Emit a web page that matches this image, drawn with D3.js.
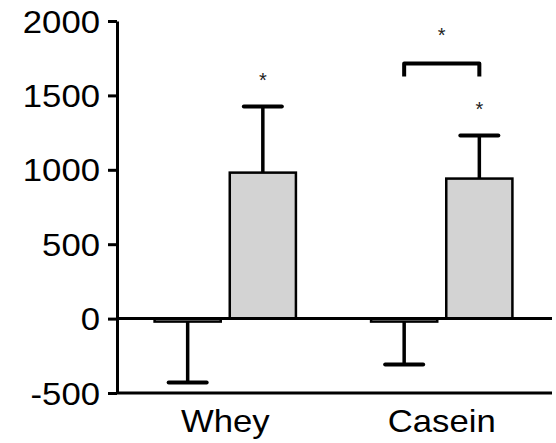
<!DOCTYPE html>
<meta charset="utf-8">
<script src="https://d3js.org/d3.v7.min.js"></script>
<style>
  body { margin: 0; background: #fff; }
  text { font-family: "Liberation Sans", Arial, sans-serif; }
</style>
<body>
<div id="chart"></div>
<script>
// data
var groups = ["Whey", "Casein"];
var series = ["control", "treated"];
var means = [[-20, 981], [-20, 941]];
var sems = [[410, 444], [289, 289]];
var yTicks = [-500, 0, 500, 1000, 1500, 2000];

var width = 556, height = 443;
var stretch = 1.12; // the reference text is a bit wide

var svg = d3.select("#chart").append("svg")
  .attr("width", width)
  .attr("height", height);

var y = d3.scaleLinear().domain([-500, 2000]).range([393, 21]);

var x0 = d3.scaleBand().domain(groups).range([117, 550]);
var x1 = d3.scaleBand().domain(series)
  .range([0, x0.bandwidth()])
  .paddingInner(0.12)
  .paddingOuter(0.5);

var rows = [];
groups.forEach(function(g, i) {
  series.forEach(function(s, j) {
    rows.push({ group: g, series: s, mean: means[i][j], sem: sems[i][j] });
  });
});

// y axis
var yAxis = svg.append("g")
  .attr("transform", "translate(117,0)")
  .call(d3.axisLeft(y).tickValues(yTicks).tickSize(9).tickSizeOuter(0).tickPadding(8)
    .tickFormat(function(d) { return String(d); }));
yAxis.select(".domain").attr("stroke-width", 3);
yAxis.selectAll(".tick line").attr("stroke-width", 3);
yAxis.selectAll("text")
  .attr("font-size", 31)
  .attr("fill", "#000")
  .attr("dy", "0.36em")
  .attr("x", -17 / stretch)
  .attr("transform", "scale(" + stretch + ",1)");

// bottom axis at -500
var xAxis = svg.append("g")
  .attr("transform", "translate(0," + y(-500) + ")")
  .call(d3.axisBottom(x0).tickSize(0).tickSizeOuter(0).tickPadding(17));
xAxis.select(".domain").attr("stroke-width", 3).attr("d", "M117,0H552");
xAxis.selectAll("text")
  .attr("font-size", 31)
  .attr("fill", "#000")
  .attr("transform", "scale(" + stretch + ",1)");

// bars
function cx(d) { return x0(d.group) + x1(d.series) + x1.bandwidth() / 2; }

svg.selectAll("rect.bar")
  .data(rows)
  .enter().append("rect")
  .attr("class", "bar")
  .attr("x", function(d) { return x0(d.group) + x1(d.series); })
  .attr("y", function(d) { return y(Math.max(0, d.mean)); })
  .attr("width", x1.bandwidth())
  .attr("height", function(d) { return Math.abs(y(d.mean) - y(0)); })
  .attr("fill", function(d) { return d.series == "treated" ? "#d3d3d3" : "#fff"; })
  .attr("stroke", "#000")
  .attr("stroke-width", 2.5);

// zero line
svg.append("line")
  .attr("x1", 117).attr("x2", 552)
  .attr("y1", y(0)).attr("y2", y(0))
  .attr("stroke", "#000").attr("stroke-width", 3);

// error bars (one-sided, away from zero)
function errEnd(d) { return d.mean >= 0 ? d.mean + d.sem : d.mean - d.sem; }

svg.selectAll("line.err")
  .data(rows)
  .enter().append("line")
  .attr("class", "err")
  .attr("x1", cx).attr("x2", cx)
  .attr("y1", function(d) { return y(d.mean); })
  .attr("y2", function(d) { return y(errEnd(d)); })
  .attr("stroke", "#000").attr("stroke-width", 3.5);

svg.selectAll("line.cap")
  .data(rows)
  .enter().append("line")
  .attr("class", "cap")
  .attr("x1", function(d) { return cx(d) - 19; })
  .attr("x2", function(d) { return cx(d) + 19; })
  .attr("y1", function(d) { return y(errEnd(d)); })
  .attr("y2", function(d) { return y(errEnd(d)); })
  .attr("stroke", "#000").attr("stroke-width", 4)
  .attr("stroke-linecap", "round");

// significance stars over treated bars
svg.selectAll("text.star")
  .data(rows.filter(function(d) { return d.series == "treated"; }))
  .enter().append("text")
  .attr("class", "star")
  .attr("x", cx)
  .attr("y", function(d) { return y(errEnd(d)) - 20; })
  .attr("text-anchor", "middle")
  .attr("font-size", 20)
  .attr("fill", "#222")
  .text("*");

// bracket between Casein control and treated
var cc = rows[2], ct = rows[3];
var by = y(1715);
svg.append("path")
  .attr("d", "M" + (cx(cc)) + "," + (by + 13) + "V" + by + "H" + cx(ct) + "V" + (by + 13))
  .attr("fill", "none")
  .attr("stroke", "#000").attr("stroke-width", 4)
  .attr("stroke-linejoin", "round");
svg.append("text")
  .attr("x", (cx(cc) + cx(ct)) / 2)
  .attr("y", by - 21)
  .attr("text-anchor", "middle")
  .attr("font-size", 20)
  .attr("fill", "#222")
  .text("*");
</script>
</body>
